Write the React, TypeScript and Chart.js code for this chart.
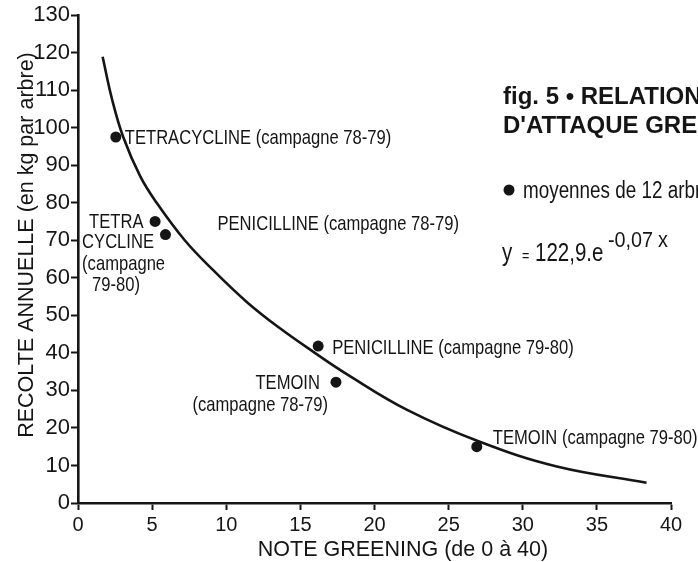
import { useEffect, useRef } from "react";
import { Chart, registerables } from "chart.js";

Chart.register(...registerables);

// ---- data ----
const pointNames = [
  ["TETRACYCLINE (campagne 78-79)"],
  ["TETRA", "CYCLINE", "(campagne", "79-80)"],
  ["PENICILLINE (campagne 78-79)"],
  ["PENICILLINE (campagne 79-80)"],
  ["TEMOIN", "(campagne 78-79)"],
  ["TEMOIN (campagne 79-80)"],
];
const pointX = [2.55, 5.2, 5.9, 16.2, 17.4, 26.9];
const pointY = [97.5, 75.0, 71.5, 41.8, 32.2, 15.0];

const curveX = [1.66, 2.3, 3.05, 4.2, 5.3, 7.2, 9.1, 11.4, 13.6, 15.9, 18.1, 22.2, 27.1, 32.3, 38.35];
const curveY = [118.9, 107.5, 97.5, 87.0, 80.0, 70.0, 62.1, 53.5, 46.6, 40.2, 34.4, 24.8, 16.3, 9.7, 5.4];

const xTickStep = 5;
const yTickStep = 10;
const xRange = [0, 40];
const yRange = [0, 130];

const xTitle = "NOTE GREENING (de 0 à 40)";
const yTitle = "RECOLTE ANNUELLE (en kg par arbre)";
const figTitle = ["fig. 5 • RELATION", "D'ATTAQUE GREENING"];
const legendText = "moyennes de 12 arbres";
const equationParts = ["y", "=", "122,9.e", "-0,07", "x"];

// ---- label placement (pixel offsets from each point), styling ----
// [dx, dy(center), align] per line
const labelOffsets: [number, number, CanvasTextAlign][][] = [
  [[9, -1, "left"]],
  [[-66, -1, "left"], [-73, 19, "left"], [-73, 41, "left"], [-63, 62, "left"]],
  [[52, -12, "left"]],
  [[14, 0, "left"]],
  [[-16, -1, "right"], [-8, 21, "right"]],
  [[16, -10, "left"]],
];

const INK = "#151515";
const SANS = "'Liberation Sans', Arial, Helvetica, sans-serif";

function drawText(
  ctx: CanvasRenderingContext2D,
  text: string,
  x: number,
  y: number,
  size: number,
  opts: { weight?: string; sx?: number; align?: CanvasTextAlign } = {}
) {
  const { weight = "normal", sx = 1, align = "left" } = opts;
  ctx.save();
  ctx.translate(x, y);
  ctx.scale(sx, 1);
  ctx.font = `${weight} ${size}px ${SANS}`;
  ctx.textAlign = align;
  ctx.textBaseline = "alphabetic";
  ctx.fillStyle = INK;
  ctx.fillText(text, 0, 0);
  ctx.restore();
}

const annotationPlugin = {
  id: "annotations",
  afterDatasetsDraw(chart: any) {
    const ctx: CanvasRenderingContext2D = chart.ctx;
    const xs = chart.scales.x;
    const ys = chart.scales.y;
    const area = chart.chartArea;

    // point labels
    pointNames.forEach((lines, i) => {
      const px = xs.getPixelForValue(pointX[i]);
      const py = ys.getPixelForValue(pointY[i]);
      lines.forEach((t, j) => {
        const [dx, dy, align] = labelOffsets[i][j];
        drawText(ctx, t, px + dx, py + dy + 7.5, 21, { sx: 0.79, align });
      });
    });

    // figure title (bold)
    const tx = area.left + 425;
    drawText(ctx, figTitle[0], tx, area.top + 89, 24, { weight: "bold" });
    drawText(ctx, figTitle[1], tx, area.top + 118, 24, { weight: "bold" });

    // legend marker + text
    ctx.save();
    ctx.fillStyle = INK;
    ctx.beginPath();
    ctx.arc(tx + 6, area.top + 175, 5.5, 0, Math.PI * 2);
    ctx.fill();
    ctx.restore();
    drawText(ctx, legendText, tx + 20, area.top + 183, 23, { sx: 0.82 });

    // equation
    const ey = area.top + 246;
    drawText(ctx, equationParts[0], tx - 1, ey, 25, { sx: 0.82 });
    drawText(ctx, equationParts[1], tx + 19, ey, 14, { sx: 0.9 });
    drawText(ctx, equationParts[2], tx + 32, ey, 25, { sx: 0.82 });
    drawText(ctx, equationParts[3], tx + 105, ey - 14, 22, { sx: 0.9 });
    drawText(ctx, equationParts[4], tx + 155, ey - 14, 22, { sx: 0.9 });

    // axis titles
    drawText(ctx, xTitle, area.left + 325, 556, 21.5, { align: "center" });
    ctx.save();
    ctx.translate(area.left - 45, area.top + 230);
    ctx.rotate(-Math.PI / 2);
    ctx.font = `normal 21.5px ${SANS}`;
    ctx.textAlign = "center";
    ctx.textBaseline = "alphabetic";
    ctx.fillStyle = INK;
    ctx.fillText(yTitle, 0, 0);
    ctx.restore();
  },
};

export default function App() {
  const ref = useRef<HTMLCanvasElement | null>(null);

  useEffect(() => {
    if (!ref.current) return;
    const chart = new Chart(ref.current, {
      type: "scatter",
      data: {
        datasets: [
          {
            type: "line",
            data: curveX.map((x, i) => ({ x, y: curveY[i] })),
            borderColor: INK,
            borderWidth: 2.6,
            pointRadius: 0,
            fill: false,
            tension: 0.4,
          } as any,
          {
            type: "scatter",
            data: pointX.map((x, i) => ({ x, y: pointY[i] })),
            backgroundColor: INK,
            borderWidth: 0,
            pointRadius: 5.5,
            pointHoverRadius: 5.5,
          },
        ],
      },
      options: {
        responsive: false,
        animation: false,
        events: [],
        layout: { padding: { top: 15, right: 27, left: 0, bottom: 0 } },
        plugins: { legend: { display: false }, tooltip: { enabled: false }, title: { display: false } },
        scales: {
          x: {
            type: "linear",
            min: xRange[0],
            max: xRange[1],
            ticks: {
              stepSize: xTickStep,
              color: INK,
              padding: 3,
              font: { family: SANS, size: 20 },
              maxRotation: 0,
            },
            grid: { display: true, drawOnChartArea: false, drawTicks: true, tickLength: 7, tickWidth: 2, tickColor: INK },
            border: { display: true, color: INK, width: 2.6 },
            afterFit: (s: any) => {
              s.height = 59;
            },
          },
          y: {
            type: "linear",
            min: yRange[0],
            max: yRange[1],
            ticks: {
              stepSize: yTickStep,
              color: INK,
              padding: 1,
              font: { family: SANS, size: 22 },
            },
            grid: { display: true, drawOnChartArea: false, drawTicks: true, tickLength: 7, tickWidth: 2, tickColor: INK },
            border: { display: true, color: INK, width: 2.6 },
            afterFit: (s: any) => {
              s.width = 78;
            },
          },
        },
      },
      plugins: [annotationPlugin],
    });
    return () => chart.destroy();
  }, []);

  return (
    <div style={{ position: "fixed", left: 0, top: 0, width: 698, height: 562, background: "#fff" }}>
      <canvas ref={ref} width={698} height={562} style={{ display: "block" }} />
    </div>
  );
}
